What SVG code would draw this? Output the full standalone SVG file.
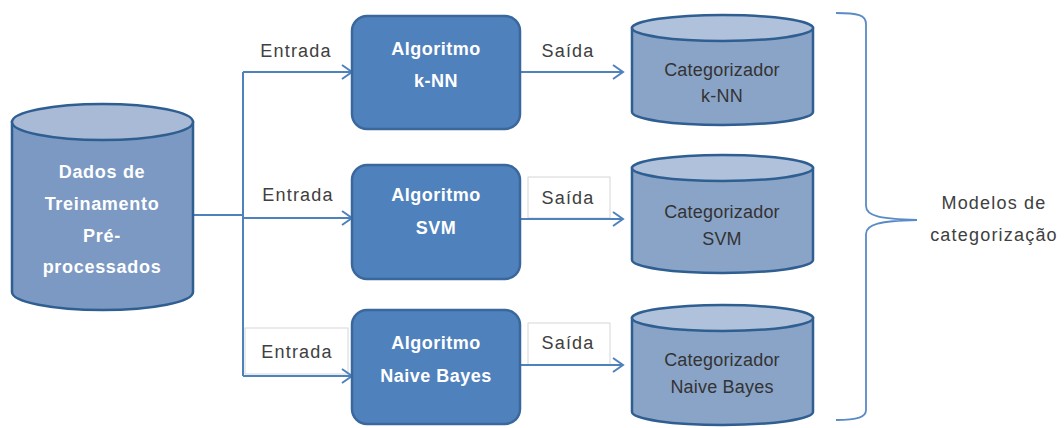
<svg xmlns="http://www.w3.org/2000/svg" width="1064" height="428" viewBox="0 0 1064 428">
  <defs>
    <marker id="arrow" markerUnits="userSpaceOnUse" markerWidth="14" markerHeight="16" refX="11" refY="8" orient="auto">
      <path d="M1,1 L11,8 L1,15" fill="none" stroke="#4f81bd" stroke-width="2"/>
    </marker>
    <style>
      .algo { fill: #4f81bd; stroke: #3a679c; stroke-width: 2.5; }
      .algo-text { font-family: "Liberation Sans", Arial, sans-serif; font-size: 18px; font-weight: bold; fill: #ffffff; letter-spacing: 0.5px; text-anchor: middle; }
      .db-body { fill: #8aa4c8; stroke: #2f5e91; stroke-width: 2.5; }
      .db-top { fill: #b0c1db; stroke: #2f5e91; stroke-width: 2.5; }
      .src-body { fill: #7b99c3; stroke: #2f5e91; stroke-width: 2.5; }
      .src-top { fill: #a8bad6; stroke: #2f5e91; stroke-width: 2.5; }
      .src-text { font-family: "Liberation Sans", Arial, sans-serif; font-size: 18px; font-weight: bold; fill: #ffffff; letter-spacing: 0.7px; text-anchor: middle; }
      .db-text { font-family: "Liberation Sans", Arial, sans-serif; font-size: 18px; fill: #333333; letter-spacing: 0.2px; text-anchor: middle; }
      .label { font-family: "Liberation Sans", Arial, sans-serif; font-size: 18px; fill: #404040; letter-spacing: 1.2px; text-anchor: middle; }
      .label-box { fill: #ffffff; stroke: #d6d6d6; stroke-width: 1; }
      .wire { fill: none; stroke: #4f81bd; stroke-width: 2; }
      .brace { fill: none; stroke: #5b8bc6; stroke-width: 1.8; }
    </style>
  </defs>

  <!-- label backgrounds -->
  <g id="label-boxes">
    <rect class="label-box" x="528" y="177" width="82" height="41"/>
    <rect class="label-box" x="245" y="328" width="103" height="46"/>
    <rect class="label-box" x="528" y="323" width="82" height="42"/>
  </g>

  <!-- connectors -->
  <g id="connectors">
    <path class="wire" d="M193,215 H243"/>
    <path class="wire" d="M243,72 V376"/>
    <path class="wire" d="M243,72 H352" marker-end="url(#arrow)"/>
    <path class="wire" d="M243,218 H352" marker-end="url(#arrow)"/>
    <path class="wire" d="M243,376 H352" marker-end="url(#arrow)"/>
    <path class="wire" d="M520,72 H623" marker-end="url(#arrow)"/>
    <path class="wire" d="M520,219 H623" marker-end="url(#arrow)"/>
    <path class="wire" d="M520,365 H623" marker-end="url(#arrow)"/>
  </g>

  <!-- edge labels -->
  <g id="labels">
    <text class="label" x="296" y="57">Entrada</text>
    <text class="label" x="298" y="201">Entrada</text>
    <text class="label" x="297" y="358">Entrada</text>
    <text class="label" x="568" y="57">Saída</text>
    <text class="label" x="568" y="204">Saída</text>
    <text class="label" x="568" y="349">Saída</text>
  </g>

  <!-- training data source -->
  <g id="dados-treinamento">
    <path class="src-body" d="M12,122 V292 A90.5,18 0 0 0 193,292 V122 Z"/>
    <ellipse class="src-top" cx="102.5" cy="122" rx="90.5" ry="18"/>
    <text class="src-text" x="102" y="178">Dados de</text>
    <text class="src-text" x="102" y="210">Treinamento</text>
    <text class="src-text" x="102" y="242">Pré-</text>
    <text class="src-text" x="102" y="273">processados</text>
  </g>

  <!-- algorithms -->
  <g id="algoritmo-knn">
    <rect class="algo" x="352" y="16" width="168" height="113" rx="15"/>
    <text class="algo-text" x="436" y="55">Algoritmo</text>
    <text class="algo-text" x="436" y="87">k-NN</text>
  </g>
  <g id="algoritmo-svm">
    <rect class="algo" x="352" y="165" width="168" height="114" rx="15"/>
    <text class="algo-text" x="436" y="201">Algoritmo</text>
    <text class="algo-text" x="436" y="234">SVM</text>
  </g>
  <g id="algoritmo-nb">
    <rect class="algo" x="352" y="310" width="168" height="114" rx="15"/>
    <text class="algo-text" x="436" y="349">Algoritmo</text>
    <text class="algo-text" x="436" y="382">Naive Bayes</text>
  </g>

  <!-- trained categorizers -->
  <g id="categorizador-knn">
    <path class="db-body" d="M632,28 V112 A90.5,13 0 0 0 813,112 V28 Z"/>
    <ellipse class="db-top" cx="722.5" cy="28" rx="90.5" ry="13"/>
    <text class="db-text" x="722" y="76">Categorizador</text>
    <text class="db-text" x="722" y="102">k-NN</text>
  </g>
  <g id="categorizador-svm">
    <path class="db-body" d="M632,168 V260 A90.5,13 0 0 0 813,260 V168 Z"/>
    <ellipse class="db-top" cx="722.5" cy="168" rx="90.5" ry="13"/>
    <text class="db-text" x="722" y="218">Categorizador</text>
    <text class="db-text" x="722" y="245">SVM</text>
  </g>
  <g id="categorizador-nb">
    <path class="db-body" d="M632,318 V412 A90.5,13 0 0 0 813,412 V318 Z"/>
    <ellipse class="db-top" cx="722.5" cy="318" rx="90.5" ry="13"/>
    <text class="db-text" x="722" y="366">Categorizador</text>
    <text class="db-text" x="722" y="393">Naive Bayes</text>
  </g>

  <!-- grouping brace -->
  <g id="modelos">
    <path class="brace" d="M836,13 C858,13 866,15 866,24 V206 C866,216 880,219 917,220 C880,221 866,224 866,234 V410 C866,417 858,420 836,420"/>
    <text class="label" x="994" y="209" letter-spacing="1">Modelos de</text>
    <text class="label" x="994" y="241" letter-spacing="0.1">categorização</text>
  </g>
</svg>
